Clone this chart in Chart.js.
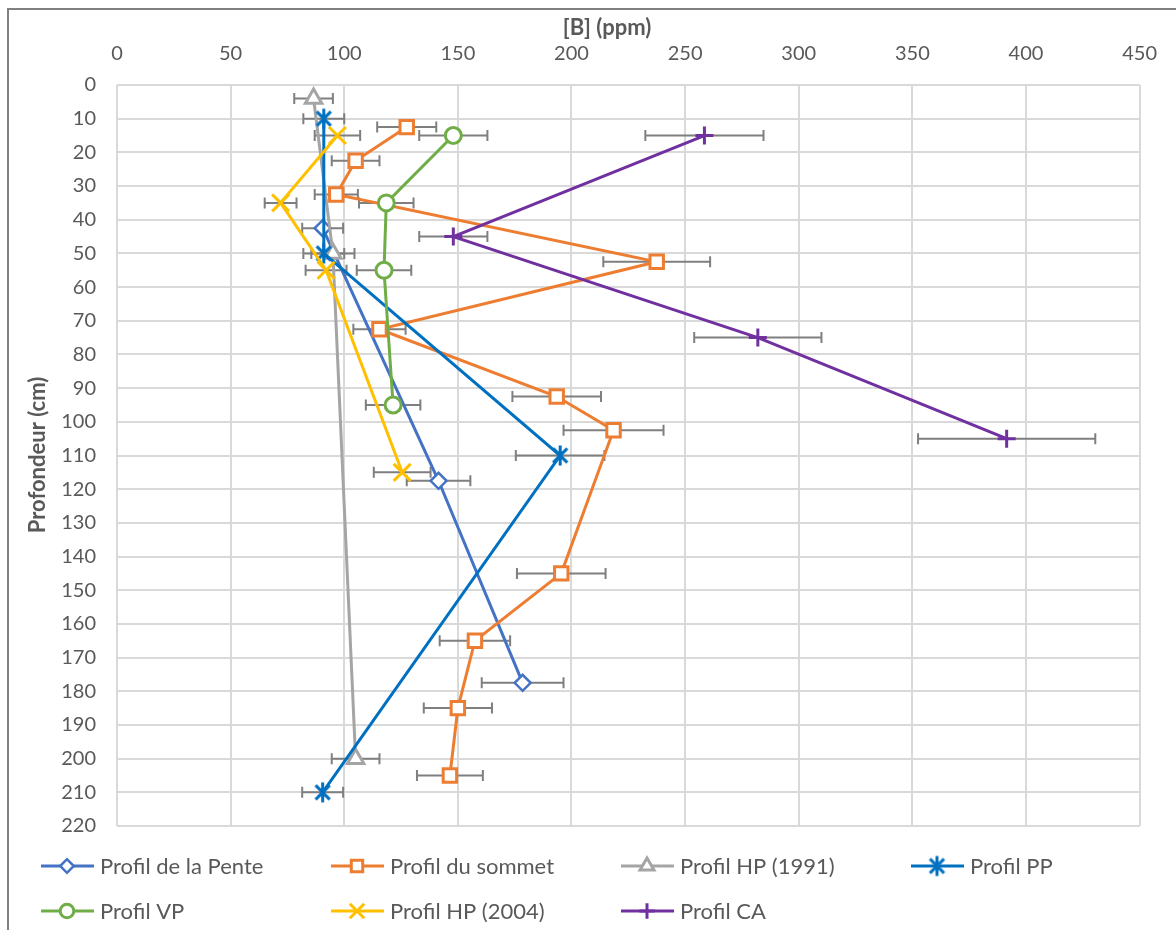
<!DOCTYPE html>
<html>
<head>
<meta charset="utf-8">
<script src="https://cdn.jsdelivr.net/npm/chart.js@4.4.1/dist/chart.umd.min.js"></script>
<style>
html,body{margin:0;padding:0;background:#fff;}
canvas{display:block;}
</style>
</head>
<body>
<canvas id="c" width="1176" height="930"></canvas>
<script>
// ---- Data ----
const seriesNames = ["Profil de la Pente", "Profil du sommet", "Profil HP (1991)", "Profil PP", "Profil VP", "Profil HP (2004)", "Profil CA"];

const depthPente = [42.5, 117.5, 177.5];
const concPente  = [90.5, 141.5, 178.5];
const errPente   = [9, 14, 18];

const depthSommet = [12.5, 22.5, 32.5, 52.5, 72.5, 92.5, 102.5, 145, 165, 185, 205];
const concSommet  = [127.5, 105, 96.5, 237.5, 115.5, 193.5, 218.5, 195.5, 157.5, 150, 146.5];
const errSommet   = [13, 10.5, 9.5, 23.5, 11.5, 19.5, 22, 19.5, 15.5, 15, 14.5];

const depthHP1991 = [4, 50, 200];
const concHP1991  = [86.5, 95, 105];
const errHP1991   = [8.5, 9.5, 10.5];

const depthPP = [10, 50, 110, 210];
const concPP  = [91, 91, 195, 90.5];
const errPP   = [9, 9, 19.5, 9];

const depthVP = [15, 35, 55, 95];
const concVP  = [148, 118.5, 117.5, 121.5];
const errVP   = [15, 12, 12, 12];

const depthHP2004 = [15, 35, 55, 115];
const concHP2004  = [97, 72, 92, 125.5];
const errHP2004   = [10, 7, 9, 12.5];

const depthCA = [15, 45, 75, 105];
const concCA  = [258.5, 148, 282, 391.5];
const errCA   = [26, 15, 28, 39];

const xTicks = [0, 50, 100, 150, 200, 250, 300, 350, 400, 450];
const yTicks = [0, 10, 20, 30, 40, 50, 60, 70, 80, 90, 100, 110, 120, 130, 140, 150, 160, 170, 180, 190, 200, 210, 220];

const xTitle = "[B] (ppm)";
const yTitle = "Profondeur (cm)";

// ---- Build ----
const concs  = [concPente, concSommet, concHP1991, concPP, concVP, concHP2004, concCA];
const depths = [depthPente, depthSommet, depthHP1991, depthPP, depthVP, depthHP2004, depthCA];
const errs   = [errPente, errSommet, errHP1991, errPP, errVP, errHP2004, errCA];
const colors = ["#4472C4", "#ED7D31", "#A5A5A5", "#0070C0", "#70AD47", "#FFC000", "#7030A0"];

function makeAsterisk(color, r, lw) {
  const s = Math.ceil(2 * r + lw + 2);
  const cv = document.createElement('canvas');
  cv.width = s; cv.height = s;
  const g = cv.getContext('2d');
  g.strokeStyle = color; g.lineWidth = lw; g.lineCap = 'butt';
  const c = s / 2;
  const d = r * Math.SQRT1_2;
  g.beginPath();
  g.moveTo(c - d, c - d); g.lineTo(c + d, c + d);
  g.moveTo(c + d, c - d); g.lineTo(c - d, c + d);
  g.moveTo(c, c - r); g.lineTo(c, c + r);
  g.stroke();
  return cv;
}
const asterisk = makeAsterisk("#0070C0", 10, 3);

const styles = [
  {pointStyle: 'rectRot', radius: 8, bw: 2.5},
  {pointStyle: 'rect', radius: 9.5, bw: 3},
  {pointStyle: 'triangle', radius: 9.5, bw: 3},
  {pointStyle: asterisk, radius: 10, bw: 3},
  {pointStyle: 'circle', radius: 8, bw: 3},
  {pointStyle: 'crossRot', radius: 12, bw: 3},
  {pointStyle: 'cross', radius: 9, bw: 3}
];

const datasets = seriesNames.map((name, i) => ({
  label: name,
  data: concs[i].map((v, j) => ({x: v, y: depths[i][j]})),
  borderColor: colors[i],
  backgroundColor: colors[i],
  pointBackgroundColor: '#ffffff',
  pointBorderColor: colors[i],
  pointStyle: styles[i].pointStyle,
  pointRadius: styles[i].radius,
  pointBorderWidth: styles[i].bw,
  borderWidth: 3,
  showLine: true,
  tension: 0,
  order: -i,
  clip: false
}));

const FONT = "Lato, 'Open Sans', sans-serif";

const errorBars = {
  id: 'errorBars',
  beforeDatasetsDraw(chart) {
    const ctx = chart.ctx;
    const xs = chart.scales.x;
    ctx.save();
    ctx.strokeStyle = '#7F7F7F';
    ctx.lineWidth = 2;
    chart.data.datasets.forEach((ds, i) => {
      const meta = chart.getDatasetMeta(i);
      meta.data.forEach((el, j) => {
        const v = concs[i][j], e = errs[i][j];
        const x1 = xs.getPixelForValue(v - e), x2 = xs.getPixelForValue(v + e);
        const y = el.y;
        ctx.beginPath();
        ctx.moveTo(x1, y); ctx.lineTo(x2, y);
        ctx.moveTo(x1, y - 5.5); ctx.lineTo(x1, y + 5.5);
        ctx.moveTo(x2, y - 5.5); ctx.lineTo(x2, y + 5.5);
        ctx.stroke();
      });
    });
    ctx.restore();
  }
};

const decor = {
  id: 'decor',
  beforeDraw(chart) {
    const ctx = chart.ctx;
    ctx.save();
    ctx.fillStyle = '#fff';
    ctx.fillRect(0, 0, chart.width, chart.height);
    ctx.restore();
  },
  afterDraw(chart) {
    const ctx = chart.ctx;
    ctx.save();
    // outer frame
    ctx.strokeStyle = '#808080';
    ctx.lineWidth = 2;
    ctx.beginPath();
    ctx.moveTo(8, 940); ctx.lineTo(8, 9); ctx.lineTo(1180, 9);
    ctx.stroke();
    // axis titles
    ctx.fillStyle = '#595959';
    ctx.font = "bold 22px " + FONT;
    ctx.textAlign = 'center';
    ctx.textBaseline = 'middle';
    ctx.fillText(xTitle, 607, 28);
    ctx.save();
    ctx.translate(38, 455);
    ctx.rotate(-Math.PI / 2);
    ctx.fillText(yTitle, 0, 0);
    ctx.restore();
    // legend
    const colX = [67, 357, 647, 937];
    const rowY = [866, 911];
    ctx.font = "22px " + FONT;
    ctx.textAlign = 'left';
    seriesNames.forEach((name, i) => {
      const cx = colX[i % 4], cy = rowY[Math.floor(i / 4)];
      ctx.strokeStyle = colors[i];
      ctx.lineWidth = 3;
      ctx.beginPath();
      ctx.moveTo(cx - 26, cy); ctx.lineTo(cx + 27, cy);
      ctx.stroke();
      ctx.fillStyle = '#ffffff';
      ctx.strokeStyle = colors[i];
      ctx.lineWidth = styles[i].bw;
      Chart.helpers.drawPoint(ctx, {pointStyle: styles[i].pointStyle, radius: styles[i].radius * 0.85, borderWidth: styles[i].bw, rotation: 0}, cx, cy);
      ctx.fillStyle = '#595959';
      ctx.fillText(name, cx + 33, cy + 1);
    });
    ctx.restore();
  }
};

new Chart(document.getElementById('c'), {
  type: 'scatter',
  data: {datasets},
  options: {
    responsive: false,
    animation: false,
    events: [],
    layout: {padding: {left: 0, top: 0, right: 33, bottom: 104}},
    plugins: {legend: {display: false}, tooltip: {enabled: false}},
    scales: {
      x: {
        type: 'linear',
        position: 'top',
        min: 0, max: 450,
        afterFit(s) { s.height = 85; },
        afterBuildTicks(s) { s.ticks = xTicks.map(v => ({value: v})); },
        ticks: {color: '#595959', font: {family: FONT, size: 20}, padding: 19},
        grid: {color: '#D9D9D9', lineWidth: 2, drawTicks: false},
        border: {display: false}
      },
      y: {
        type: 'linear',
        reverse: true,
        min: 0, max: 220,
        afterFit(s) { s.width = 117; },
        afterBuildTicks(s) { s.ticks = yTicks.map(v => ({value: v})); },
        ticks: {color: '#595959', font: {family: FONT, size: 20}, padding: 21},
        grid: {color: '#D9D9D9', lineWidth: 2, drawTicks: false},
        border: {display: false}
      }
    }
  },
  plugins: [errorBars, decor]
});
</script>
</body>
</html>
